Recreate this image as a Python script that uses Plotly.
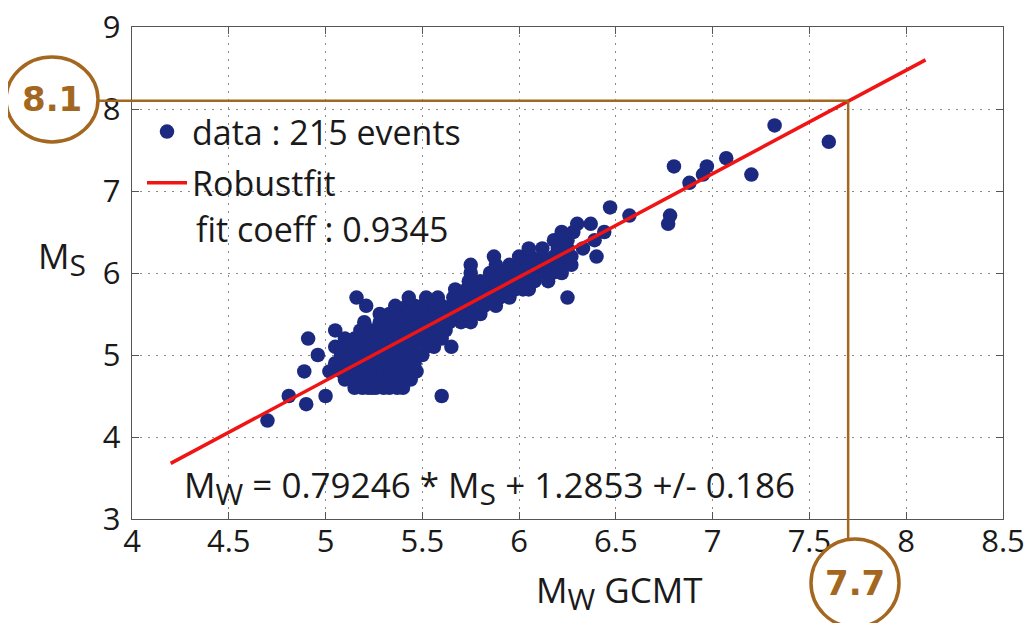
import plotly.graph_objects as go
import numpy as np

# ---- data ----
mw_gcmt = [
    4.70,
    4.90,
    4.81, 5.00, 5.60,
    5.15, 5.19, 5.22, 5.24, 5.26, 5.30, 5.33, 5.37, 5.40,
    5.10, 5.14, 5.18, 5.20, 5.22, 5.26, 5.30, 5.32, 5.34, 5.38, 5.44,
    4.89, 5.02, 5.08, 5.12, 5.14, 5.17, 5.20, 5.25, 5.30, 5.33, 5.36, 5.42, 5.47,
    5.05, 5.10, 5.12, 5.15, 5.20, 5.24, 5.27, 5.30, 5.32, 5.36, 5.40, 5.46,
    4.96, 5.08, 5.13, 5.18, 5.20, 5.24, 5.30, 5.35, 5.38, 5.42, 5.46, 5.50,
    5.05, 5.12, 5.18, 5.22, 5.25, 5.30, 5.34, 5.38, 5.41, 5.45, 5.52, 5.56, 5.65,
    4.91, 5.10, 5.15, 5.18, 5.22, 5.28, 5.32, 5.35, 5.42, 5.48, 5.55, 5.60,
    5.05, 5.18, 5.24, 5.27, 5.30, 5.36, 5.40, 5.44, 5.47, 5.50, 5.56, 5.62,
    5.20, 5.28, 5.31, 5.35, 5.40, 5.44, 5.47, 5.52, 5.58, 5.64, 5.70, 5.75,
    5.28, 5.33, 5.38, 5.41, 5.45, 5.50, 5.54, 5.57, 5.62, 5.68, 5.74, 5.80,
    5.21, 5.36, 5.42, 5.46, 5.50, 5.56, 5.60, 5.65, 5.70, 5.75, 5.82, 5.88,
    5.16, 5.43, 5.52, 5.58, 5.66, 5.72, 5.78, 5.85, 5.90, 5.95, 6.25,
    5.67, 5.73, 5.77, 5.80, 5.86, 5.92, 5.98, 6.02, 6.05,
    5.74, 5.80, 5.84, 5.87, 5.93, 6.00, 6.04, 6.08, 6.15,
    5.75, 5.85, 5.92, 5.98, 6.03, 6.10, 6.14, 6.17, 6.22,
    5.75, 5.88, 5.95, 6.02, 6.08, 6.14, 6.20, 6.24, 6.27,
    5.87, 6.00, 6.06, 6.12, 6.18, 6.22, 6.27, 6.40,
    6.05, 6.12, 6.20, 6.25, 6.33,
    6.18, 6.25, 6.39,
    6.22, 6.28, 6.44,
    6.30, 6.37, 6.77,
    6.57, 6.78,
    6.47,
    6.88,
    6.95, 7.20,
    6.80, 6.97,
    7.07,
    7.60,
    7.32,
]
ms = [
    4.2,
    4.4,
    4.5, 4.5, 4.5,
    4.6, 4.6, 4.6, 4.6, 4.6, 4.6, 4.6, 4.6, 4.6,
    4.7, 4.7, 4.7, 4.7, 4.7, 4.7, 4.7, 4.7, 4.7, 4.7, 4.7,
    4.8, 4.8, 4.8, 4.8, 4.8, 4.8, 4.8, 4.8, 4.8, 4.8, 4.8, 4.8, 4.8,
    4.9, 4.9, 4.9, 4.9, 4.9, 4.9, 4.9, 4.9, 4.9, 4.9, 4.9, 4.9,
    5.0, 5.0, 5.0, 5.0, 5.0, 5.0, 5.0, 5.0, 5.0, 5.0, 5.0, 5.0,
    5.1, 5.1, 5.1, 5.1, 5.1, 5.1, 5.1, 5.1, 5.1, 5.1, 5.1, 5.1, 5.1,
    5.2, 5.2, 5.2, 5.2, 5.2, 5.2, 5.2, 5.2, 5.2, 5.2, 5.2, 5.2,
    5.3, 5.3, 5.3, 5.3, 5.3, 5.3, 5.3, 5.3, 5.3, 5.3, 5.3, 5.3,
    5.4, 5.4, 5.4, 5.4, 5.4, 5.4, 5.4, 5.4, 5.4, 5.4, 5.4, 5.4,
    5.5, 5.5, 5.5, 5.5, 5.5, 5.5, 5.5, 5.5, 5.5, 5.5, 5.5, 5.5,
    5.6, 5.6, 5.6, 5.6, 5.6, 5.6, 5.6, 5.6, 5.6, 5.6, 5.6, 5.6,
    5.7, 5.7, 5.7, 5.7, 5.7, 5.7, 5.7, 5.7, 5.7, 5.7, 5.7,
    5.8, 5.8, 5.8, 5.8, 5.8, 5.8, 5.8, 5.8, 5.8,
    5.9, 5.9, 5.9, 5.9, 5.9, 5.9, 5.9, 5.9, 5.9,
    6.0, 6.0, 6.0, 6.0, 6.0, 6.0, 6.0, 6.0, 6.0,
    6.1, 6.1, 6.1, 6.1, 6.1, 6.1, 6.1, 6.1, 6.1,
    6.2, 6.2, 6.2, 6.2, 6.2, 6.2, 6.2, 6.2,
    6.3, 6.3, 6.3, 6.3, 6.3,
    6.4, 6.4, 6.4,
    6.5, 6.5, 6.5,
    6.6, 6.6, 6.6,
    6.7, 6.7,
    6.8,
    7.1,
    7.2, 7.2,
    7.3, 7.3,
    7.4,
    7.6,
    7.8,
]

# robust fit: Mw = slope * Ms + intercept
fit_slope = 0.79246
fit_intercept = 1.2853
fit_sigma = 0.186
fit_coeff = 0.9345
fit_mw_range = [4.2, 8.1]

# read-off example
mark_mw = 7.7
mark_ms = 8.1

x_ticks = [4, 4.5, 5, 5.5, 6, 6.5, 7, 7.5, 8, 8.5]
y_ticks = [3, 4, 5, 6, 7, 8, 9]
x_range = [4, 8.5]
y_range = [3, 9]

# ---- figure ----
FONT = "Open Sans"
TXT = "#1a1a1a"
BROWN = "#A4671F"
NAVY = "#1B2A80"


def sub(s, size):
    return '<sub><span style="font-size:%dpx">%s</span></sub>' % (size, s)


fit_x = np.array(fit_mw_range)
fit_y = (fit_x - fit_intercept) / fit_slope

fig = go.Figure()
fig.add_trace(go.Scatter(
    x=mw_gcmt, y=ms, mode="markers", name="data : %d events" % len(mw_gcmt),
    marker=dict(color=NAVY, size=14.5, line=dict(width=0)),
    legendgroup="a",
))
fig.add_trace(go.Scatter(
    x=fit_x, y=fit_y, mode="lines", name="Robustfit",
    line=dict(color="#F01414", width=3.5),
    legendgroup="b",
))

# page body has an 8px margin: the figure starts at (8, 8) in the window
OFF = 8
WIN_W, WIN_H = 1036, 623
PL, PR, PT, PB = 132, 1003, 27, 519   # plot area in window pixels
W, H = WIN_W - OFF, WIN_H - OFF
ml, mt = PL - OFF, PT - OFF
mr, mb = WIN_W - PR, WIN_H - PB
pw, ph = PR - PL, PB - PT


def px_to_paper_x(px):
    return (px - PL) / pw


def px_to_paper_y(py):
    return (PB - py) / ph


xfrac = (mark_mw - x_range[0]) / (x_range[1] - x_range[0])
yfrac = (mark_ms - y_range[0]) / (y_range[1] - y_range[0])

shapes = [
    dict(type="line", xref="paper", yref="y", x0=px_to_paper_x(98), x1=xfrac,
         y0=mark_ms, y1=mark_ms, line=dict(color=BROWN, width=2.5), layer="above"),
    dict(type="line", xref="x", yref="paper", x0=mark_mw, x1=mark_mw,
         y0=yfrac, y1=px_to_paper_y(539), line=dict(color=BROWN, width=2.5), layer="above"),
    dict(type="circle", xref="paper", yref="paper",
         x0=px_to_paper_x(6), x1=px_to_paper_x(98),
         y0=px_to_paper_y(57), y1=px_to_paper_y(142),
         line=dict(color=BROWN, width=3.5), layer="above"),
    dict(type="circle", xref="paper", yref="paper",
         x0=px_to_paper_x(811), x1=px_to_paper_x(899),
         y0=px_to_paper_y(539), y1=px_to_paper_y(627),
         line=dict(color=BROWN, width=3.5), layer="above"),
]

annotations = [
    dict(xref="paper", yref="paper", x=px_to_paper_x(52), y=px_to_paper_y(99),
         text="<b>%.1f</b>" % mark_ms, showarrow=False,
         font=dict(family="DejaVu Sans", size=34, color=BROWN),
         xanchor="center", yanchor="middle"),
    dict(xref="paper", yref="paper", x=px_to_paper_x(855), y=px_to_paper_y(583),
         text="<b>%.1f</b>" % mark_mw, showarrow=False,
         font=dict(family="DejaVu Sans", size=34, color=BROWN),
         xanchor="center", yanchor="middle"),
    dict(xref="paper", yref="paper", x=px_to_paper_x(194), y=px_to_paper_y(229),
         text="fit coeff : %.4f" % fit_coeff, showarrow=False,
         font=dict(family=FONT, size=34, color=TXT), xanchor="left", yanchor="middle"),
    dict(xref="paper", yref="paper", x=px_to_paper_x(182), y=px_to_paper_y(487),
         text="M%s = %.5f * M%s + %.4f +/- %.3f" % (sub("W", 30), fit_slope, sub("S", 30),
                                                   fit_intercept, fit_sigma),
         showarrow=False,
         font=dict(family=FONT, size=35, color=TXT), xanchor="left", yanchor="middle"),
    dict(xref="paper", yref="paper", x=px_to_paper_x(534), y=px_to_paper_y(592),
         text="M%s GCMT" % sub("W", 30), showarrow=False,
         font=dict(family=FONT, size=35, color=TXT), xanchor="left", yanchor="middle"),
    dict(xref="paper", yref="paper", x=px_to_paper_x(36), y=px_to_paper_y(258),
         text="M%s" % sub("S", 30), showarrow=False,
         font=dict(family=FONT, size=35, color=TXT), xanchor="left", yanchor="middle"),
]

axis_common = dict(
    showline=True, linecolor="#555", linewidth=1.4, mirror="ticks",
    ticks="inside", ticklen=7, tickcolor="#555", tickwidth=1,
    showgrid=True, gridcolor="#8a8a8a", griddash="2px,6px", gridwidth=1,
    zeroline=False, automargin=False, ticklabeloverflow="allow",
    tickfont=dict(family=FONT, size=31, color=TXT),
)

fig.update_layout(
    width=W, height=H,
    margin=dict(l=ml, r=mr, t=mt, b=mb, autoexpand=False),
    paper_bgcolor="white", plot_bgcolor="white",
    xaxis=dict(range=x_range, tickvals=x_ticks, ticktext=[f"{v:g}" for v in x_ticks],
               ticklabelstandoff=-5, **axis_common),
    yaxis=dict(range=y_range, tickvals=y_ticks, ticktext=[f"{v:g}" for v in y_ticks],
               ticklabelstandoff=4, **axis_common),
    showlegend=True,
    legend=dict(x=px_to_paper_x(142), y=px_to_paper_y(103), xanchor="left", yanchor="top",
                bgcolor="rgba(0,0,0,0)", borderwidth=0,
                font=dict(family=FONT, size=34, color=TXT),
                traceorder="grouped", tracegroupgap=4, itemwidth=40),
    shapes=shapes,
    annotations=annotations,
)

fig.write_html("out.html")
